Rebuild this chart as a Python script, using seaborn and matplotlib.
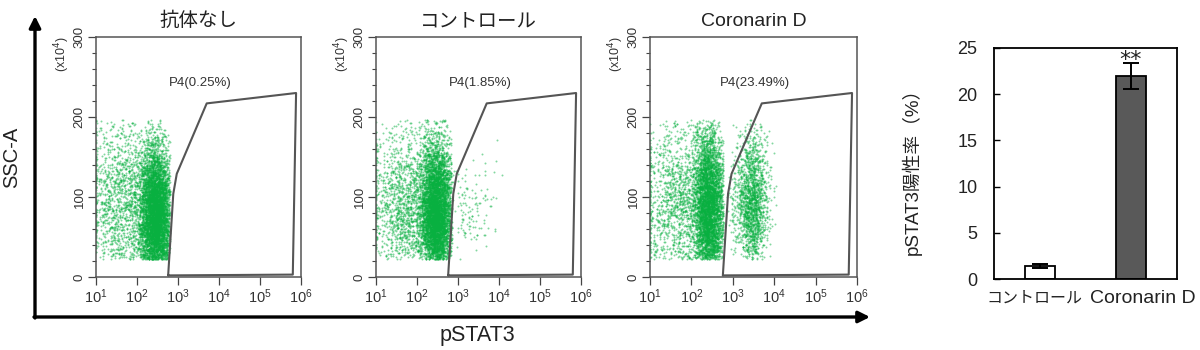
import numpy as np
import pandas as pd
import matplotlib
matplotlib.use("Agg")
import matplotlib.pyplot as plt
import matplotlib.transforms as mtransforms
from matplotlib.ticker import LogLocator, MultipleLocator, NullFormatter
import seaborn as sns

sns.set_theme(style="white")
plt.rcParams['font.family'] = ['Liberation Sans', 'Noto Sans CJK JP', 'DejaVu Sans']

# ---------------- data ----------------
panel_titles = ["抗体なし", "コントロール", "Coronarin D"]
gate_labels = ["P4(0.25%)", "P4(1.85%)", "P4(23.49%)"]
events_per_panel = [6500, 6500, 7000]
# event clusters:
# (log10 pSTAT3 centre, log sd, log upper edge, SSC centre, SSC sd, share)
clusters_none = [(2.45, 0.20, 2.80, 75, 45, 0.80), (1.65, 0.45, 2.30, 95, 55, 0.20)]
clusters_ctrl = [(2.47, 0.20, 2.85, 80, 45, 0.78), (1.70, 0.45, 2.30, 90, 50, 0.20),
                 (3.30, 0.30, 4.10, 85, 35, 0.02)]
clusters_cord = [(2.42, 0.19, 2.78, 85, 50, 0.59), (1.65, 0.45, 2.30, 95, 55, 0.17),
                 (3.45, 0.20, 4.05, 95, 42, 0.24)]
ssc_floor, ssc_ceiling = 22, 197
# P4 gate vertices (log10 pSTAT3, SSC-A x10^4)
gate_logx = [2.76, 2.885, 2.97, 3.70, 5.88, 5.80, 2.76]
gate_ssc = [2, 104, 129, 217, 230, 3, 2]

bar_categories = ["コントロール", "Coronarin D"]
bar_values = [1.4, 22.0]
bar_errors = [0.2, 1.4]
bar_colors = ["#ffffff", "#595959"]
significance = ["", "**"]

# ---------------- figure ----------------
W, H = 1200, 350
fig = plt.figure(figsize=(W / 100, H / 100), dpi=100)

def px_axes(left, top, right, bottom):
    return fig.add_axes([left / W, 1 - bottom / H, (right - left) / W, (bottom - top) / H])

# overlay for big arrows and shared axis titles
ov = fig.add_axes([0, 0, 1, 1], zorder=0)
ov.set_xlim(0, W)
ov.set_ylim(H, 0)
ov.axis("off")
ov.annotate("", xy=(35, 16), xytext=(35, 318),
            arrowprops=dict(arrowstyle="-|>", lw=2.4, color="black", mutation_scale=17, shrinkA=0, shrinkB=0))
ov.annotate("", xy=(870, 317), xytext=(34, 317),
            arrowprops=dict(arrowstyle="-|>", lw=2.4, color="black", mutation_scale=17, shrinkA=0, shrinkB=0))
ov.text(12, 157, "SSC-A", rotation=90, ha="center", va="center", fontsize=14.5, color="#222")
ov.text(477, 335, "pSTAT3", ha="center", va="center", fontsize=15.5, color="#222")

rng = np.random.default_rng(11)

def make_events(clusters, n):
    xs, ys = [], []
    for mx, sx, xhi, my, sy, share in clusters:
        k = int(round(n * share))
        x = rng.normal(mx, sx, k * 4)
        y = rng.normal(my, sy, k * 4)
        ok = (y >= ssc_floor) & (y <= ssc_ceiling) & (x <= xhi)
        xs.append(x[ok][:k])
        ys.append(y[ok][:k])
    lx = np.clip(np.concatenate(xs), 1.0, 6.0)
    return pd.DataFrame({"x": 10 ** lx, "y": np.concatenate(ys)})

panel_px = [(96, 301), (376, 581), (650, 857)]
all_clusters = [clusters_none, clusters_ctrl, clusters_cord]

for i in range(3):
    l, r = panel_px[i]
    ax = px_axes(l, 37, r, 277)
    df = make_events(all_clusters[i], events_per_panel[i])
    sns.scatterplot(data=df, x="x", y="y", ax=ax, s=2.0, color="#08b040", alpha=0.5,
                    linewidth=0, legend=False, rasterized=True)
    ax.plot(10 ** np.array(gate_logx), gate_ssc, color="#555555", lw=1.5)
    ax.set_xscale("log")
    ax.set_xlim(10, 10 ** 6)
    ax.set_ylim(0, 300)
    ax.set_xticks([10 ** k for k in range(1, 7)])
    ax.xaxis.set_minor_locator(LogLocator(base=10, subs=np.arange(2, 10)))
    ax.xaxis.set_minor_formatter(NullFormatter())
    ax.set_yticks([0, 100, 200, 300])
    ax.yaxis.set_minor_locator(MultipleLocator(20))
    ax.tick_params(axis="both", which="major", labelsize=9.5, colors="#444", length=5.5, width=0.9,
                   labelcolor="#333", bottom=True, left=True, pad=2)
    ax.tick_params(axis="x", which="major", labelsize=10.5)
    ax.tick_params(axis="both", which="minor", length=3.2, width=0.8, colors="#444", bottom=True, left=True)
    for lab in ax.get_yticklabels():
        lab.set_rotation(90)
        lab.set_va("center")
    ax.set_xlabel("")
    ax.set_ylabel("")
    for sp in ax.spines.values():
        sp.set_color("#555")
        sp.set_linewidth(1.1)
    ax.text(-0.165, 0.93, "(x10$^{4}$)", transform=ax.transAxes, rotation=90, ha="center", va="center",
            fontsize=9, color="#333")
    ax.text(10 ** 3.54, 243, gate_labels[i], ha="center", va="center", fontsize=9.5, color="#333")
    ax.set_title(panel_titles[i], fontsize=14, color="#222", pad=8)

# ---------------- bar chart ----------------
bx = px_axes(994, 48, 1177, 279)
bdf = pd.DataFrame({"cat": bar_categories, "val": bar_values})
sns.barplot(data=bdf, x="cat", y="val", hue="cat", palette=bar_colors, ax=bx, width=0.33,
            edgecolor="black", linewidth=1.3, errorbar=None, legend=False)
bx.errorbar(range(len(bar_values)), bar_values, yerr=bar_errors, fmt="none", ecolor="black",
            elinewidth=1.4, capsize=6, capthick=1.4)
for k, s in enumerate(significance):
    if s:
        bx.text(k, bar_values[k] + bar_errors[k] - 0.3, s, ha="center", va="baseline",
                fontsize=16, color="#222", family=["DejaVu Sans"])
bx.set_ylim(0, 25)
bx.set_xlim(-0.505, 1.505)
bx.set_yticks([0, 5, 10, 15, 20, 25])
bx.set_xlabel("")
bx.set_ylabel("")
bx.text(-0.448, 0.485, "pSTAT3陽性率（%）", transform=bx.transAxes, rotation=90,
        ha="center", va="center", fontsize=13.5, color="#222")
bx.tick_params(axis="y", labelsize=13, colors="black", labelcolor="#222", length=4, width=1,
               direction="in", left=True, pad=12)
bx.tick_params(axis="x", labelsize=14, colors="#222", length=0, pad=8)
xlabs = bx.get_xticklabels()
xlabs[0].set_fontsize(11.5)
shifts_px = [-6, 12]
for lab, dx in zip(xlabs, shifts_px):
    lab.set_transform(lab.get_transform() + mtransforms.ScaledTranslation(dx / 100, 0, fig.dpi_scale_trans))
for sp in bx.spines.values():
    sp.set_color("black")
    sp.set_linewidth(1.3)

fig.savefig("out.png", dpi=100)
